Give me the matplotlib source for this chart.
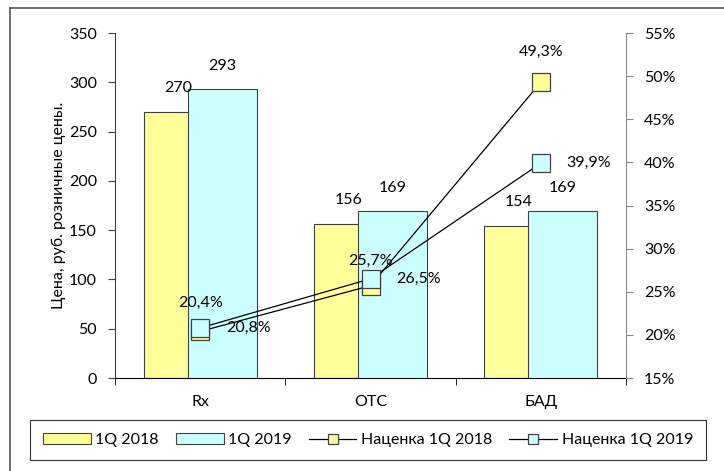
import numpy as np
import matplotlib.pyplot as plt
from matplotlib.lines import Line2D
from matplotlib.ticker import FuncFormatter

plt.rcParams['font.family'] = ['Lato', 'DejaVu Sans']
plt.rcParams['font.size'] = 11.5

# данные
categories = ['Rx', 'OTC', 'БАД']
price_2018 = [270, 156, 154]
price_2019 = [293, 169, 169]
markup_2018 = [20.4, 25.7, 49.3]
markup_2019 = [20.8, 26.5, 39.9]

yellow = '#FFFF99'
cyan = '#CCFFFF'

fig = plt.figure(figsize=(7.24, 4.71), dpi=100)
ax = fig.add_axes([115 / 724, 1 - 378 / 471, 511 / 724, 345 / 471])
x = np.arange(len(categories))
w = 0.405

b1 = ax.bar(x - 0.13, price_2018, w, color=yellow, edgecolor='#404040', linewidth=0.8, label='1Q 2018', zorder=2)
b2 = ax.bar(x + 0.13, price_2019, w, color=cyan, edgecolor='#404040', linewidth=0.8, label='1Q 2019', zorder=3)

for xi, v in zip(x - 0.13, price_2018):
    ax.annotate(str(v), (xi, v), xytext=(0, 24), textcoords='offset pixels', ha='center', va='center', zorder=5)
for xi, v in zip(x + 0.13, price_2019):
    ax.annotate(str(v), (xi, v), xytext=(0, 23), textcoords='offset pixels', ha='center', va='center', zorder=5)

ax.set_xlim(-0.5, 2.5)
ax.set_ylim(0, 350)
ax.set_yticks(range(0, 351, 50))
ax.set_xticks(x)
ax.set_xticklabels(categories)
ax.set_xticks([-0.5, 0.5, 1.5, 2.5], minor=True)
ax.tick_params(axis='x', which='major', length=0, pad=12)
ax.tick_params(axis='x', which='minor', length=5, direction='out', color='black')
ax.tick_params(axis='y', length=5, color='#404040', pad=8)
ax.set_ylabel('Цена, руб. розничные цены.', labelpad=2)
ax.spines['top'].set_visible(False)
ax.spines['right'].set_visible(False)
ax.spines['left'].set_color('#404040')
ax.spines['bottom'].set_color('black')

ax2 = ax.twinx()
l1, = ax2.plot(x, markup_2018, color='black', linewidth=0.9, marker='s', markersize=13,
               markerfacecolor=yellow, markeredgecolor='#404040', markeredgewidth=0.9, label='Наценка 1Q 2018')
l2, = ax2.plot(x, markup_2019, color='black', linewidth=0.9, marker='s', markersize=13,
               markerfacecolor=cyan, markeredgecolor='#404040', markeredgewidth=0.9, label='Наценка 1Q 2019')

def pct(v):
    return f'{v:.1f}%'.replace('.', ',')

offs_2018 = [(0, 29), (0, 25), (0, 30)]
for xi, v, o in zip(x, markup_2018, offs_2018):
    ax2.annotate(pct(v), (xi, v), xytext=o, textcoords='offset pixels', ha='center', va='center')
for xi, v in zip(x, markup_2019):
    ax2.annotate(pct(v), (xi, v), xytext=(48, 0), textcoords='offset pixels', ha='center', va='center')

ax2.set_ylim(15, 55)
ax2.set_yticks(range(15, 56, 5))
ax2.yaxis.set_major_formatter(FuncFormatter(lambda v, p: f'{v:.0f}%'))
ax2.tick_params(axis='y', length=5, color='#888888', pad=8)
ax2.spines['right'].set_color('#888888')
for s in ['top', 'left', 'bottom']:
    ax2.spines[s].set_visible(False)

leg = fig.legend([b1, b2, l1, l2], ['1Q 2018', '1Q 2019', 'Наценка 1Q 2018', 'Наценка 1Q 2019'],
                 loc='center', bbox_to_anchor=(22 / 724, 1 - 460 / 471, 692 / 724, 40 / 471),
                 mode='expand', ncol=4, frameon=True,
                 fancybox=False, edgecolor='black', handlelength=3.0, handletextpad=0.3,
                 columnspacing=0.6, borderpad=0.8, markerscale=0.6)
leg.get_frame().set_linewidth(0.8)

# рамка диаграммы
fig.add_artist(Line2D([10 / 724, 10 / 724], [0, 1 - 8 / 471], transform=fig.transFigure,
                      color='#555555', linewidth=1.2))
fig.add_artist(Line2D([10 / 724, 1], [1 - 8 / 471, 1 - 8 / 471], transform=fig.transFigure,
                      color='#555555', linewidth=1.2))

fig.savefig('out.png', dpi=100)
